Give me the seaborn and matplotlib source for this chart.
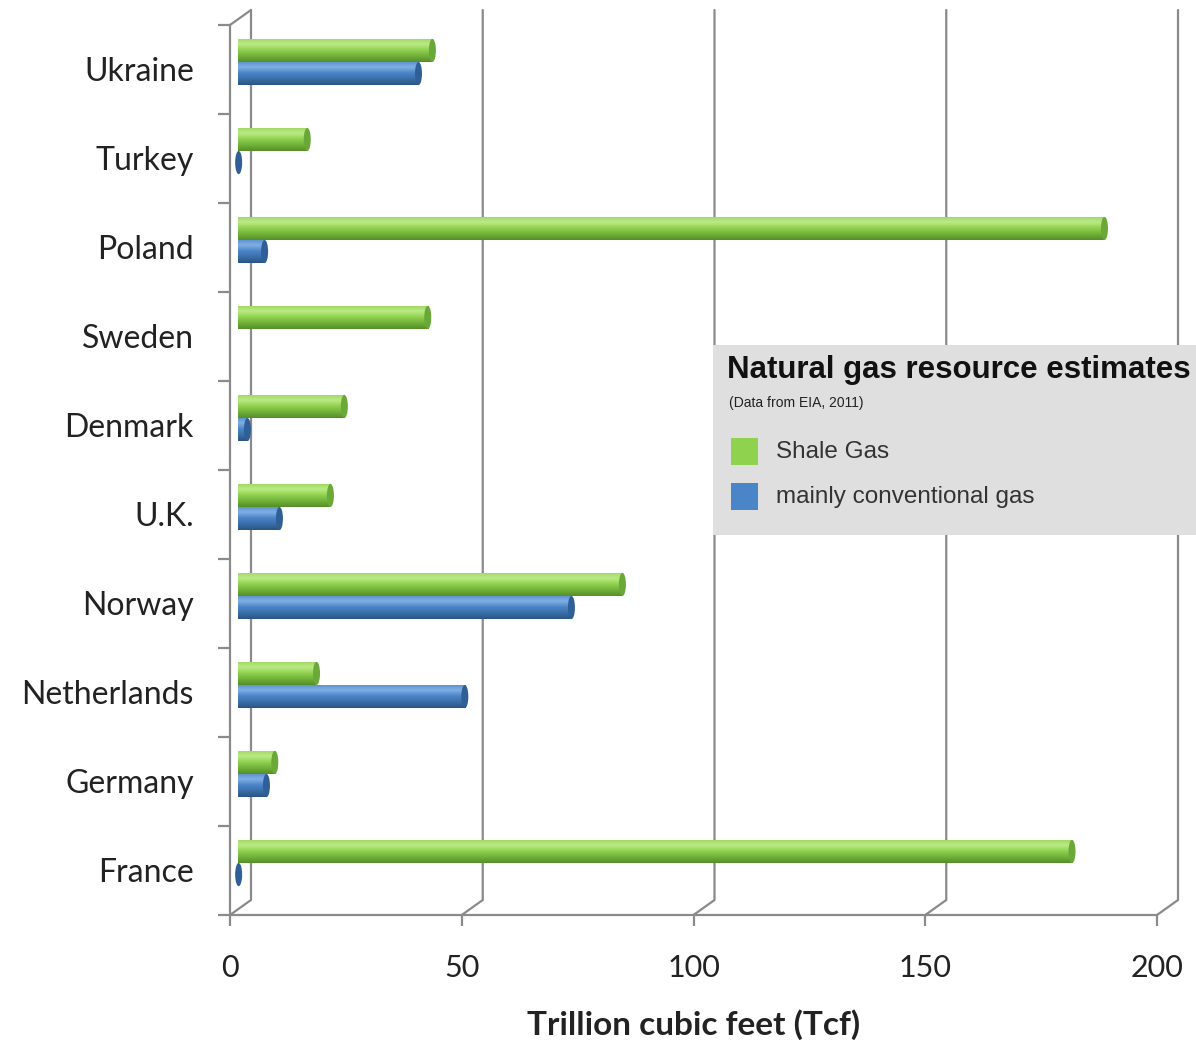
import matplotlib
matplotlib.use("Agg")
import matplotlib.pyplot as plt
import matplotlib.patches as mpatches
from matplotlib.colors import LinearSegmentedColormap
import numpy as np
import seaborn as sns
import pandas as pd

# EIA 2011 natural gas resource estimates, Tcf
countries = ["Ukraine", "Turkey", "Poland", "Sweden", "Denmark",
             "U.K.", "Norway", "Netherlands", "Germany", "France"]
shale_gas = [42, 15, 187, 41, 23, 20, 83, 17, 8, 180]
conventional_gas = [39, 0.2, 5.8, 0, 2.1, 9, 72, 49, 6.2, 0.2]
x_ticks = [0, 50, 100, 150, 200]

series_names = ["Shale Gas", "mainly conventional gas"]
colors = ["#8fd24e", "#4a85c8"]
shades = [["#9ed85f", "#bbea86", "#8fd24e", "#72b13a", "#548f25"],
          ["#5a90cf", "#80afe3", "#4a85c8", "#3a6ea8", "#2a5484"]]
cap_colors = ["#6aa83a", "#2f5f96"]

df = pd.DataFrame({
    "country": countries * 2,
    "tcf": shale_gas + conventional_gas,
    "type": [series_names[0]] * len(countries) + [series_names[1]] * len(countries),
})

sns.set_style("white")
plt.rcParams["font.family"] = ["Lato", "DejaVu Sans"]

fig = plt.figure(figsize=(11.96, 10.4), dpi=100)
ax = fig.add_axes([230 / 1196, 125 / 1040, 927 / 1196, 890 / 1040])

sns.barplot(data=df, x="tcf", y="country", hue="type", order=countries,
            hue_order=series_names, palette=colors, orient="h", width=0.52,
            legend=False, ax=ax, saturation=1)

# depth of the 3D box (data units)
px_x = 927 / 200
px_y = 890 / 10
dx = 21 / px_x
dy = 15 / px_y

# bars sit in the middle plane of the box, shaded like cylinders
bars = list(ax.patches)
for i, bar in enumerate(bars):
    k = 0 if i < len(countries) else 1
    bar.set_x(bar.get_x() + dx / 2 - 0.6)
    bar.set_y(bar.get_y() - dy / 2)
    bar.set_edgecolor("none")
    bar.set_zorder(3)
    w = bar.get_width()
    if w <= 0:
        bar.set_visible(False)
        continue
    x0, y0, h = bar.get_x(), bar.get_y(), bar.get_height()
    cmap = LinearSegmentedColormap.from_list("cyl", shades[k])
    grad = np.linspace(0, 1, 64).reshape(-1, 1)
    img = ax.imshow(grad, cmap=cmap, extent=(x0, x0 + w, y0 + h, y0),
                    aspect="auto", zorder=3.5, interpolation="bilinear")
    img.set_clip_path(bar)
    cap = mpatches.Ellipse((x0 + w, y0 + h / 2), 7 / px_x, h,
                           facecolor=cap_colors[k], edgecolor="none", zorder=4)
    ax.add_patch(cap)

ax.set_xlim(0, 200)
ax.set_ylim(9.5, -0.5)

grid_c = "#8a8a8a"
for v in x_ticks:
    ax.plot([v, v + dx, v + dx], [9.5, 9.5 - dy, -0.5 - dy],
            color=grid_c, lw=1.6, clip_on=False, zorder=1)
ax.plot([0, dx], [-0.5, -0.5 - dy], color=grid_c, lw=1.6, clip_on=False, zorder=1)

for side in ["top", "right"]:
    ax.spines[side].set_visible(False)
for side in ["left", "bottom"]:
    ax.spines[side].set_color(grid_c)
    ax.spines[side].set_linewidth(1.6)

ax.set_xticks(x_ticks)
ax.set_xticklabels([str(v) for v in x_ticks], fontsize=22)
ax.set_yticks(range(len(countries)))
ax.set_yticklabels(countries, fontsize=23, color="#222222")
ax.set_yticks([i - 0.5 for i in range(len(countries) + 1)], minor=True)
ax.tick_params(axis="y", which="major", left=False, length=0, pad=26)
ax.tick_params(axis="y", which="minor", left=True, length=9, width=1.6,
               color=grid_c, direction="out")
ax.tick_params(axis="x", bottom=True, length=8, width=1.6, color=grid_c,
               direction="out", pad=20, labelcolor="#222222")

ax.set_xlabel("Trillion cubic feet (Tcf)", fontsize=24, fontweight="bold",
              labelpad=20, color="#222222")
ax.set_ylabel("")

# legend panel
fig.patches.append(mpatches.Rectangle((713 / 1196, 505 / 1040), 483 / 1196, 190 / 1040,
                                      transform=fig.transFigure, facecolor="#dfdfdf",
                                      edgecolor="none", zorder=5))
arial = ["Liberation Sans", "DejaVu Sans"]
fig.text(727 / 1196, 670 / 1040, "Natural gas resource estimates", fontsize=22.5,
         fontweight="bold", family=arial, va="center", zorder=6, color="#111111")
fig.text(729 / 1196, 637 / 1040, "(Data from EIA, 2011)", fontsize=10,
         family=arial, va="center", zorder=6, color="#222222")
for k, yc in enumerate([588, 543]):
    fig.patches.append(mpatches.Rectangle((731 / 1196, (yc - 13) / 1040), 27 / 1196, 27 / 1040,
                                          transform=fig.transFigure, facecolor=colors[k],
                                          edgecolor="none", zorder=6))
    fig.text(776 / 1196, yc / 1040, series_names[k], fontsize=17.5, family=arial,
             va="center", zorder=6, color="#333333")

fig.savefig("out.png", dpi=100)
